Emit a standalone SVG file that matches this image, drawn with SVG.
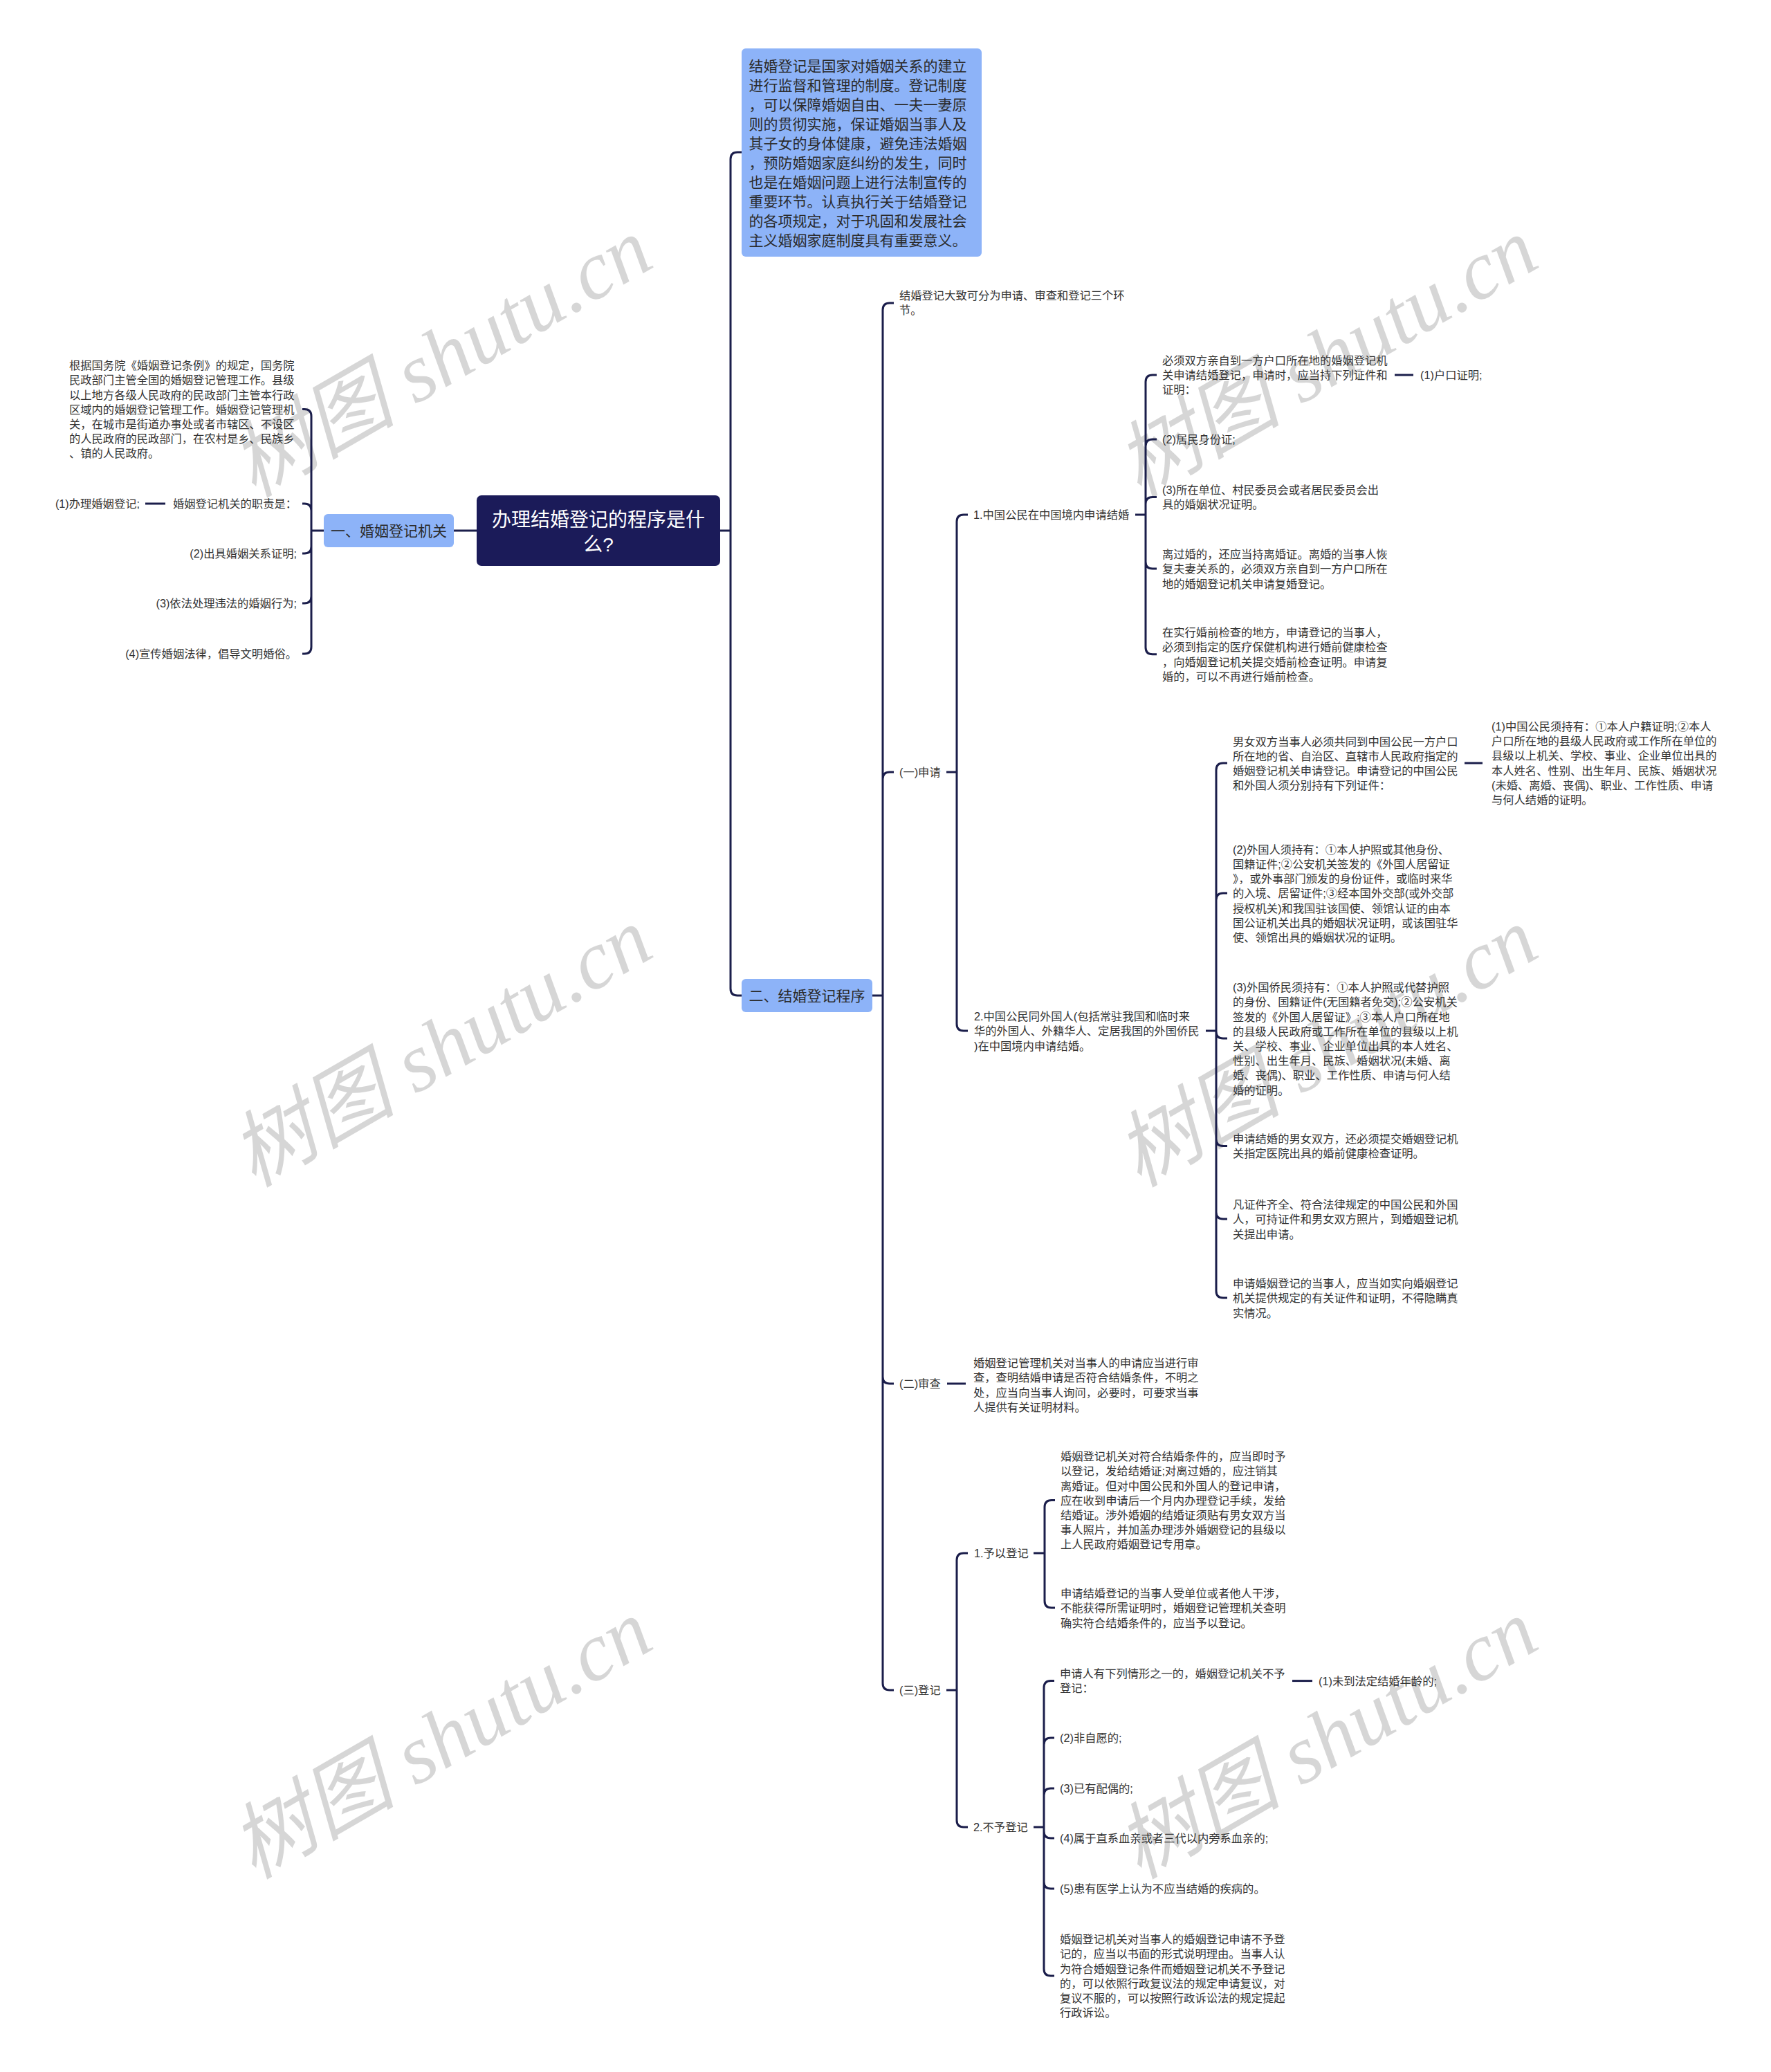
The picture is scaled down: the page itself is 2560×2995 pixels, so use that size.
<svg xmlns="http://www.w3.org/2000/svg" width="2560" height="2995" viewBox="0 0 2560 2995">
<style>
.bg{fill:#ffffff}
.wm{font-family:"Liberation Serif","Noto Sans CJK SC",serif;font-style:italic;font-size:120px;fill:#000;fill-opacity:0.16;text-anchor:middle}
.ln{fill:none;stroke:#1b1e4b;stroke-width:3}
.t{font-family:"Liberation Sans","Noto Sans CJK SC",sans-serif;font-size:16.3px;fill:#333333}
.e{text-anchor:end}
.sub{font-family:"Liberation Sans","Noto Sans CJK SC",sans-serif;font-size:21px;fill:#2b2b2b}
.root{fill:#1b1b59}
.blue{fill:#8db3f8}
.rt{font-family:"Liberation Sans","Noto Sans CJK SC",sans-serif;font-size:28px;fill:#ffffff;text-anchor:middle}
</style>
<rect class="bg" x="0" y="0" width="2560" height="2995"/>
<g id="watermark">
<text class="wm" transform="translate(658,552) rotate(-30)">树图 shutu.cn</text>
<text class="wm" transform="translate(1938,552) rotate(-30)">树图 shutu.cn</text>
<text class="wm" transform="translate(658,1549) rotate(-30)">树图 shutu.cn</text>
<text class="wm" transform="translate(1938,1549) rotate(-30)">树图 shutu.cn</text>
<text class="wm" transform="translate(658,2549) rotate(-30)">树图 shutu.cn</text>
<text class="wm" transform="translate(1938,2549) rotate(-30)">树图 shutu.cn</text>
</g>
<g id="connectors">
<path class="ln" d="M689 767 H656"/>
<path class="ln" d="M468 767 H450 M450 767 V601.6 Q450 591.6 440 591.6 H437 M450 767 V738 Q450 728 440 728 H437 M450 767 V790 Q450 800 440 800 H437 M450 767 V862 Q450 872 440 872 H437 M450 767 V935 Q450 945 440 945 H437"/>
<path class="ln" d="M239 728 H210"/>
<path class="ln" d="M1041 767 H1056 M1056 767 V230 Q1056 220 1066 220 H1072 M1056 767 V1429 Q1056 1439 1066 1439 H1072"/>
<path class="ln" d="M1261 1439 H1276 M1276 1439 V448 Q1276 438 1286 438 H1292 M1276 1439 V1126 Q1276 1116 1286 1116 H1292 M1276 1439 V1990 Q1276 2000 1286 2000 H1292 M1276 1439 V2433 Q1276 2443 1286 2443 H1292"/>
<path class="ln" d="M1368 1116 H1383 M1383 1116 V754 Q1383 744 1393 744 H1399 M1383 1116 V1480 Q1383 1490 1393 1490 H1399"/>
<path class="ln" d="M1641 744 H1656 M1656 744 V552 Q1656 542 1666 542 H1672 M1656 744 V645 Q1656 635 1666 635 H1672 M1656 744 V728.6 Q1656 718.6 1666 718.6 H1672 M1656 744 V812 Q1656 822 1666 822 H1672 M1656 744 V935.8 Q1656 945.8 1666 945.8 H1672"/>
<path class="ln" d="M2016 542 H2043"/>
<path class="ln" d="M1743 1490 H1758 M1758 1490 V1113 Q1758 1103 1768 1103 H1774 M1758 1490 V1301 Q1758 1291 1768 1291 H1774 M1758 1490 V1491 Q1758 1501 1768 1501 H1774 M1758 1490 V1646.6 Q1758 1656.6 1768 1656.6 H1774 M1758 1490 V1752 Q1758 1762 1768 1762 H1774 M1758 1490 V1866 Q1758 1876 1768 1876 H1774"/>
<path class="ln" d="M2117 1103 H2143"/>
<path class="ln" d="M1369 2000 H1396"/>
<path class="ln" d="M1368 2443 H1383 M1383 2443 V2255 Q1383 2245 1393 2245 H1399 M1383 2443 V2631 Q1383 2641 1393 2641 H1399"/>
<path class="ln" d="M1494 2245 H1510 M1510 2245 V2178.6 Q1510 2168.6 1520 2168.6 H1525 M1510 2245 V2314 Q1510 2324 1520 2324 H1525"/>
<path class="ln" d="M1494 2641 H1509 M1509 2641 V2439.6 Q1509 2429.6 1519 2429.6 H1524 M1509 2641 V2522 Q1509 2512 1519 2512 H1524 M1509 2641 V2595 Q1509 2585 1519 2585 H1524 M1509 2641 V2647 Q1509 2657 1519 2657 H1524 M1509 2641 V2720 Q1509 2730 1519 2730 H1524 M1509 2641 V2846 Q1509 2856 1519 2856 H1524"/>
<path class="ln" d="M1868 2429.6 H1897"/>
</g>
<g id="root">
<rect class="root" x="689" y="716" width="352" height="102" rx="7"/>
<text class="rt" x="865" y="760.6">办理结婚登记的程序是什</text>
<text class="rt" x="865" y="797.2">么?</text>
</g>
<g id="n-jiguan">
<rect class="blue" x="468" y="743" width="188" height="48" rx="6"/>
<text class="sub" x="562" y="775" text-anchor="middle">一、婚姻登记机关</text>
</g>
<g id="n-l1">
<text class="t" x="100" y="534.2"><tspan x="100">根据国务院《婚姻登记条例》的规定，国务院</tspan><tspan x="100" dy="21.2">民政部门主管全国的婚姻登记管理工作。县级</tspan><tspan x="100" dy="21.2">以上地方各级人民政府的民政部门主管本行政</tspan><tspan x="100" dy="21.2">区域内的婚姻登记管理工作。婚姻登记管理机</tspan><tspan x="100" dy="21.2">关，在城市是街道办事处或者市辖区、不设区</tspan><tspan x="100" dy="21.2">的人民政府的民政部门，在农村是乡、民族乡</tspan><tspan x="100" dy="21.2">、镇的人民政府。</tspan></text>
</g>
<g id="n-l2"><text class="t e" x="429" y="734.2">婚姻登记机关的职责是：</text></g>
<g id="n-l2a"><text class="t e" x="202" y="734.2">(1)办理婚姻登记;</text></g>
<g id="n-l3"><text class="t e" x="429" y="806.2">(2)出具婚姻关系证明;</text></g>
<g id="n-l4"><text class="t e" x="429" y="878.2">(3)依法处理违法的婚姻行为;</text></g>
<g id="n-l5"><text class="t e" x="429" y="951.2">(4)宣传婚姻法律，倡导文明婚俗。</text></g>
<g id="n-intro">
<rect class="blue" x="1072" y="70" width="347" height="301" rx="6"/>
<text class="sub" x="1082.5" y="103"><tspan x="1082.5">结婚登记是国家对婚姻关系的建立</tspan><tspan x="1082.5" dy="28">进行监督和管理的制度。登记制度</tspan><tspan x="1082.5" dy="28">，可以保障婚姻自由、一夫一妻原</tspan><tspan x="1082.5" dy="28">则的贯彻实施，保证婚姻当事人及</tspan><tspan x="1082.5" dy="28">其子女的身体健康，避免违法婚姻</tspan><tspan x="1082.5" dy="28">，预防婚姻家庭纠纷的发生，同时</tspan><tspan x="1082.5" dy="28">也是在婚姻问题上进行法制宣传的</tspan><tspan x="1082.5" dy="28">重要环节。认真执行关于结婚登记</tspan><tspan x="1082.5" dy="28">的各项规定，对于巩固和发展社会</tspan><tspan x="1082.5" dy="28">主义婚姻家庭制度具有重要意义。</tspan></text>
</g>
<g id="n-chengxu">
<rect class="blue" x="1072" y="1415" width="189" height="48" rx="6"/>
<text class="sub" x="1166.5" y="1447" text-anchor="middle">二、结婚登记程序</text>
</g>
<g id="n-a"><text class="t" x="1300" y="433.2"><tspan x="1300">结婚登记大致可分为申请、审查和登记三个环</tspan><tspan x="1300" dy="21.2">节。</tspan></text></g>
<g id="n-b"><text class="t" x="1300" y="1122.2">(一)申请</text></g>
<g id="n-c"><text class="t" x="1407" y="750.2">1.中国公民在中国境内申请结婚</text></g>
<g id="n-d1"><text class="t" x="1680" y="526.7"><tspan x="1680">必须双方亲自到一方户口所在地的婚姻登记机</tspan><tspan x="1680" dy="21.2">关申请结婚登记，申请时，应当持下列证件和</tspan><tspan x="1680" dy="21.2">证明：</tspan></text></g>
<g id="n-d1a"><text class="t" x="2053" y="548.2">(1)户口证明;</text></g>
<g id="n-d2"><text class="t" x="1680" y="641.2">(2)居民身份证;</text></g>
<g id="n-d3"><text class="t" x="1680" y="714.2"><tspan x="1680">(3)所在单位、村民委员会或者居民委员会出</tspan><tspan x="1680" dy="21.2">具的婚姻状况证明。</tspan></text></g>
<g id="n-d4"><text class="t" x="1680" y="807.2"><tspan x="1680">离过婚的，还应当持离婚证。离婚的当事人恢</tspan><tspan x="1680" dy="21.2">复夫妻关系的，必须双方亲自到一方户口所在</tspan><tspan x="1680" dy="21.2">地的婚姻登记机关申请复婚登记。</tspan></text></g>
<g id="n-d5"><text class="t" x="1680" y="920.2"><tspan x="1680">在实行婚前检查的地方，申请登记的当事人，</tspan><tspan x="1680" dy="21.2">必须到指定的医疗保健机构进行婚前健康检查</tspan><tspan x="1680" dy="21.2">，向婚姻登记机关提交婚前检查证明。申请复</tspan><tspan x="1680" dy="21.2">婚的，可以不再进行婚前检查。</tspan></text></g>
<g id="n-e"><text class="t" x="1408" y="1475.2"><tspan x="1408">2.中国公民同外国人(包括常驻我国和临时来</tspan><tspan x="1408" dy="21.2">华的外国人、外籍华人、定居我国的外国侨民</tspan><tspan x="1408" dy="21.2">)在中国境内申请结婚。</tspan></text></g>
<g id="n-f1"><text class="t" x="1782" y="1077.6"><tspan x="1782">男女双方当事人必须共同到中国公民一方户口</tspan><tspan x="1782" dy="21.2">所在地的省、自治区、直辖市人民政府指定的</tspan><tspan x="1782" dy="21.2">婚姻登记机关申请登记。申请登记的中国公民</tspan><tspan x="1782" dy="21.2">和外国人须分别持有下列证件：</tspan></text></g>
<g id="n-f1a"><text class="t" x="2156" y="1055.9"><tspan x="2156">(1)中国公民须持有：①本人户籍证明;②本人</tspan><tspan x="2156" dy="21.2">户口所在地的县级人民政府或工作所在单位的</tspan><tspan x="2156" dy="21.2">县级以上机关、学校、事业、企业单位出具的</tspan><tspan x="2156" dy="21.2">本人姓名、性别、出生年月、民族、婚姻状况</tspan><tspan x="2156" dy="21.2">(未婚、离婚、丧偶)、职业、工作性质、申请</tspan><tspan x="2156" dy="21.2">与何人结婚的证明。</tspan></text></g>
<g id="n-f2"><text class="t" x="1782" y="1233.8"><tspan x="1782">(2)外国人须持有：①本人护照或其他身份、</tspan><tspan x="1782" dy="21.2">国籍证件;②公安机关签发的《外国人居留证</tspan><tspan x="1782" dy="21.2">》，或外事部门颁发的身份证件，或临时来华</tspan><tspan x="1782" dy="21.2">的入境、居留证件;③经本国外交部(或外交部</tspan><tspan x="1782" dy="21.2">授权机关)和我国驻该国使、领馆认证的由本</tspan><tspan x="1782" dy="21.2">国公证机关出具的婚姻状况证明，或该国驻华</tspan><tspan x="1782" dy="21.2">使、领馆出具的婚姻状况的证明。</tspan></text></g>
<g id="n-f3"><text class="t" x="1782" y="1433.2"><tspan x="1782">(3)外国侨民须持有：①本人护照或代替护照</tspan><tspan x="1782" dy="21.2">的身份、国籍证件(无国籍者免交);②公安机关</tspan><tspan x="1782" dy="21.2">签发的《外国人居留证》;③本人户口所在地</tspan><tspan x="1782" dy="21.2">的县级人民政府或工作所在单位的县级以上机</tspan><tspan x="1782" dy="21.2">关、学校、事业、企业单位出具的本人姓名、</tspan><tspan x="1782" dy="21.2">性别、出生年月、民族、婚姻状况(未婚、离</tspan><tspan x="1782" dy="21.2">婚、丧偶)、职业、工作性质、申请与何人结</tspan><tspan x="1782" dy="21.2">婚的证明。</tspan></text></g>
<g id="n-f4"><text class="t" x="1782" y="1652.2"><tspan x="1782">申请结婚的男女双方，还必须提交婚姻登记机</tspan><tspan x="1782" dy="21.2">关指定医院出具的婚前健康检查证明。</tspan></text></g>
<g id="n-f5"><text class="t" x="1782" y="1747.2"><tspan x="1782">凡证件齐全、符合法律规定的中国公民和外国</tspan><tspan x="1782" dy="21.2">人，可持证件和男女双方照片，到婚姻登记机</tspan><tspan x="1782" dy="21.2">关提出申请。</tspan></text></g>
<g id="n-f6"><text class="t" x="1782" y="1861.2"><tspan x="1782">申请婚姻登记的当事人，应当如实向婚姻登记</tspan><tspan x="1782" dy="21.2">机关提供规定的有关证件和证明，不得隐瞒真</tspan><tspan x="1782" dy="21.2">实情况。</tspan></text></g>
<g id="n-g"><text class="t" x="1300" y="2006.2">(二)审查</text></g>
<g id="n-g1"><text class="t" x="1407" y="1976.2"><tspan x="1407">婚姻登记管理机关对当事人的申请应当进行审</tspan><tspan x="1407" dy="21.2">查，查明结婚申请是否符合结婚条件，不明之</tspan><tspan x="1407" dy="21.2">处，应当向当事人询问，必要时，可要求当事</tspan><tspan x="1407" dy="21.2">人提供有关证明材料。</tspan></text></g>
<g id="n-h"><text class="t" x="1300" y="2449.2">(三)登记</text></g>
<g id="n-i"><text class="t" x="1408" y="2251.2">1.予以登记</text></g>
<g id="n-i1"><text class="t" x="1533" y="2111.2"><tspan x="1533">婚姻登记机关对符合结婚条件的，应当即时予</tspan><tspan x="1533" dy="21.2">以登记，发给结婚证;对离过婚的，应注销其</tspan><tspan x="1533" dy="21.2">离婚证。但对中国公民和外国人的登记申请，</tspan><tspan x="1533" dy="21.2">应在收到申请后一个月内办理登记手续，发给</tspan><tspan x="1533" dy="21.2">结婚证。涉外婚姻的结婚证须贴有男女双方当</tspan><tspan x="1533" dy="21.2">事人照片，并加盖办理涉外婚姻登记的县级以</tspan><tspan x="1533" dy="21.2">上人民政府婚姻登记专用章。</tspan></text></g>
<g id="n-i2"><text class="t" x="1533" y="2309.2"><tspan x="1533">申请结婚登记的当事人受单位或者他人干涉，</tspan><tspan x="1533" dy="21.2">不能获得所需证明时，婚姻登记管理机关查明</tspan><tspan x="1533" dy="21.2">确实符合结婚条件的，应当予以登记。</tspan></text></g>
<g id="n-j"><text class="t" x="1407" y="2647.2">2.不予登记</text></g>
<g id="n-j1"><text class="t" x="1532" y="2425.2"><tspan x="1532">申请人有下列情形之一的，婚姻登记机关不予</tspan><tspan x="1532" dy="21.2">登记：</tspan></text></g>
<g id="n-j1a"><text class="t" x="1906" y="2436.2">(1)未到法定结婚年龄的;</text></g>
<g id="n-j2"><text class="t" x="1532" y="2518.2">(2)非自愿的;</text></g>
<g id="n-j3"><text class="t" x="1532" y="2591.2">(3)已有配偶的;</text></g>
<g id="n-j4"><text class="t" x="1532" y="2663.2">(4)属于直系血亲或者三代以内旁系血亲的;</text></g>
<g id="n-j5"><text class="t" x="1532" y="2736.2">(5)患有医学上认为不应当结婚的疾病的。</text></g>
<g id="n-j6"><text class="t" x="1532" y="2809.2"><tspan x="1532">婚姻登记机关对当事人的婚姻登记申请不予登</tspan><tspan x="1532" dy="21.2">记的，应当以书面的形式说明理由。当事人认</tspan><tspan x="1532" dy="21.2">为符合婚姻登记条件而婚姻登记机关不予登记</tspan><tspan x="1532" dy="21.2">的，可以依照行政复议法的规定申请复议，对</tspan><tspan x="1532" dy="21.2">复议不服的，可以按照行政诉讼法的规定提起</tspan><tspan x="1532" dy="21.2">行政诉讼。</tspan></text></g>
</svg>
